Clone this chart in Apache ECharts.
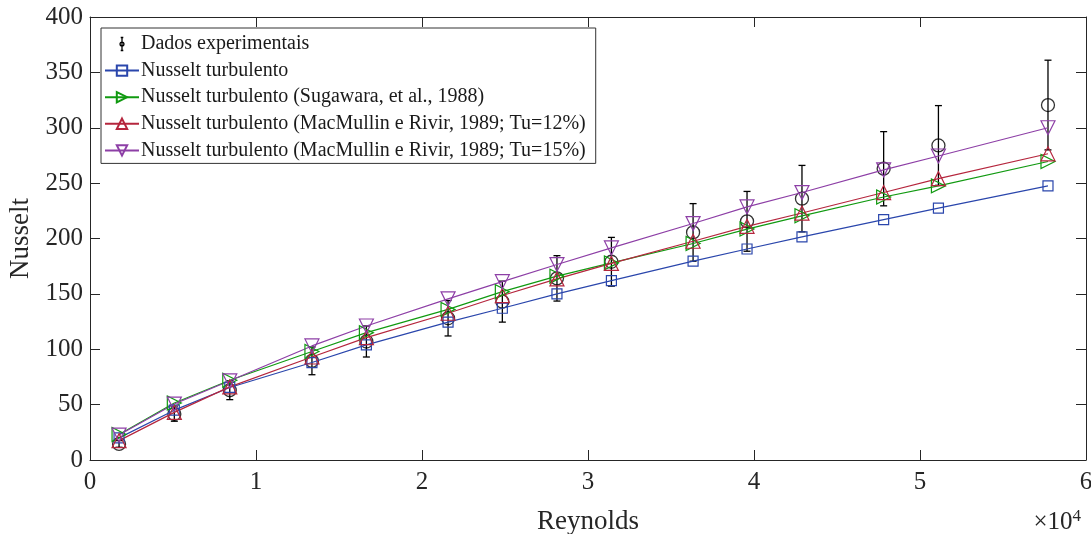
<!DOCTYPE html>
<html>
<head>
<meta charset="utf-8">
<script src="https://cdn.jsdelivr.net/npm/echarts@6/dist/echarts.min.js"></script>
<style>
  html, body { margin: 0; padding: 0; background: #fff; }
  #chart { width: 1091px; height: 534px; }
</style>
</head>
<body>
<div id="chart"></div>
<script>
// valores
var reynolds = [1750, 5080, 8420, 13370, 16650, 21570, 24840, 28130, 31410, 36330, 39580, 42890, 47810, 51110, 57710];
var nuExp    = [14.5, 41.5, 63, 89.5, 107, 128, 143, 164, 179, 205.5, 215.5, 236, 263, 284, 320.5];
var nuErr    = [3, 6.5, 8.5, 12.5, 14, 16, 18.5, 20.5, 22, 26, 27, 30, 33.5, 36, 40.5];
var nuTurb   = [20, 45, 65.5, 88, 104, 124.5, 137, 150, 162, 179.5, 190.5, 201.5, 217, 227.5, 247.5];
var nuSug    = [23, 51.5, 72, 98, 115, 136, 152, 166, 178, 195.5, 208.5, 220.5, 237.5, 247.5, 269.5];
var nuMac12  = [17.5, 43, 66, 93, 110.5, 132.5, 148.5, 163.5, 177.5, 197.5, 211, 223, 241.5, 254, 276.5];
var nuMac15  = [22.5, 50.5, 71.5, 103, 121, 145.5, 161, 176.5, 191.5, 213.5, 228.5, 241.5, 262, 274.5, 300];

var names = [
    'Dados experimentais',
    'Nusselt turbulento',
    'Nusselt turbulento (Sugawara, et al., 1988)',
    'Nusselt turbulento (MacMullin e Rivir, 1989; Tu=12%)',
    'Nusselt turbulento (MacMullin e Rivir, 1989; Tu=15%)'
];

var fontSerif = 'Liberation Serif';
var axisColor = '#262626';

function pairs(ys){
    var out = [];
    for(var i=0;i<reynolds.length;i++){
        out.push([reynolds[i], ys[i]]);
    }
    return out;
}

function lineSeries(name, ys, color, symbol, size, rotate){
    return {
        name: name,
        type: 'line',
        data: pairs(ys),
        symbol: symbol,
        symbolSize: size,
        symbolRotate: rotate,
        showAllSymbol: true,
        lineStyle: { color: color, width: 1.2 },
        itemStyle: { color: 'transparent', borderColor: color, borderWidth: 1.2 },
        emphasis: { disabled: true },
        animation: false,
        z: 3
    };
}

var errData = [];
for(var i=0;i<reynolds.length;i++){
    errData.push([reynolds[i], nuExp[i], nuErr[i]]);
}

var chart = echarts.init(document.getElementById('chart'));

var option = {
    backgroundColor: '#fff',
    animation: false,
    grid: { left: 90, right: 5, top: 17, bottom: 74, containLabel: false, outerBoundsMode: 'none' },
    xAxis: [{
        type: 'value',
        min: 0, max: 60000, interval: 10000,
        name: 'Reynolds',
        nameLocation: 'middle',
        nameGap: 48,
        nameTextStyle: { fontFamily: fontSerif, fontSize: 27, color: axisColor },
        axisLine: { show: true, onZero: false, lineStyle: { color: axisColor, width: 1 } },
        axisTick: { show: true, inside: true, length: 10, lineStyle: { color: axisColor } },
        axisLabel: {
            fontFamily: fontSerif, fontSize: 25, color: axisColor, margin: 10,
            formatter: function(v){ return v / 10000; }
        },
        splitLine: { show: false }
    }, {
        type: 'value',
        position: 'top',
        min: 0, max: 60000, interval: 10000,
        axisLine: { show: true, onZero: false, lineStyle: { color: axisColor, width: 1 } },
        axisTick: { show: true, inside: true, length: 10, lineStyle: { color: axisColor } },
        axisLabel: { show: false },
        splitLine: { show: false }
    }],
    yAxis: [{
        type: 'value',
        min: 0, max: 400, interval: 50,
        name: 'Nusselt',
        nameLocation: 'middle',
        nameGap: 54,
        nameTextStyle: { fontFamily: fontSerif, fontSize: 27, color: axisColor },
        axisLine: { show: true, onZero: false, lineStyle: { color: axisColor, width: 1 } },
        axisTick: { show: true, inside: true, length: 10, lineStyle: { color: axisColor } },
        axisLabel: { fontFamily: fontSerif, fontSize: 25, color: axisColor, margin: 7 },
        splitLine: { show: false }
    }, {
        type: 'value',
        position: 'right',
        min: 0, max: 400, interval: 50,
        axisLine: { show: true, onZero: false, lineStyle: { color: axisColor, width: 1 } },
        axisTick: { show: true, inside: true, length: 10, lineStyle: { color: axisColor } },
        axisLabel: { show: false },
        splitLine: { show: false }
    }],
    legend: {
        orient: 'vertical',
        left: 101, top: 28,
        padding: [6, 10, 3, 3],
        itemGap: 6.6,
        itemWidth: 34,
        itemHeight: 13,
        backgroundColor: '#fff',
        borderColor: '#333',
        borderWidth: 1,
        borderRadius: 0,
        selectedMode: false,
        textStyle: { fontFamily: fontSerif, fontSize: 20, color: '#1a1a1a', padding: [0, 0, 0, -3] },
        data: [
            {
                name: names[0],
                icon: 'path://M3 0 L7 0 M5 0 L5 20 M3 20 L7 20 M8 10 A3 3 0 1 1 2 10 A3 3 0 1 1 8 10 Z',
                itemStyle: { color: 'transparent', borderColor: '#000', borderWidth: 1.3 }
            },
            names[1], names[2], names[3], names[4]
        ]
    },
    graphic: [{
        type: 'text',
        right: 10,
        top: 508,
        style: {
            text: '×10{s|4}',
            font: '25px "Liberation Serif"',
            fill: axisColor,
            rich: { s: { fontSize: 17, fontFamily: fontSerif, fill: axisColor, verticalAlign: 'top', padding: [0, 0, 12, 0] } }
        }
    }],
    series: [
        {
            name: names[0],
            type: 'custom',
            data: errData,
            renderItem: function(params, api){
                var x = api.value(0), y = api.value(1), e = api.value(2);
                var top = api.coord([x, y + e]);
                var bot = api.coord([x, y - e]);
                var w = 3.5;
                var st = { stroke: '#000', lineWidth: 1.3 };
                return {
                    type: 'group',
                    children: [
                        { type: 'line', shape: { x1: top[0], y1: top[1], x2: bot[0], y2: bot[1] }, style: st },
                        { type: 'line', shape: { x1: top[0] - w, y1: top[1], x2: top[0] + w, y2: top[1] }, style: st },
                        { type: 'line', shape: { x1: bot[0] - w, y1: bot[1], x2: bot[0] + w, y2: bot[1] }, style: st }
                    ]
                };
            },
            itemStyle: { color: '#000' },
            z: 2
        },
        {
            name: names[0],
            type: 'scatter',
            data: pairs(nuExp),
            symbol: 'circle',
            symbolSize: 13,
            itemStyle: { color: 'transparent', borderColor: '#000', borderWidth: 1.3 },
            emphasis: { disabled: true },
            z: 2
        },
        lineSeries(names[1], nuTurb, '#2a46ac', 'rect', 10, 0),
        lineSeries(names[2], nuSug, '#119a11', 'triangle', 14, -90),
        lineSeries(names[3], nuMac12, '#b5263d', 'triangle', 14, 0),
        lineSeries(names[4], nuMac15, '#8d3fa6', 'triangle', 14, 180)
    ]
};

chart.setOption(option);
</script>
</body>
</html>
